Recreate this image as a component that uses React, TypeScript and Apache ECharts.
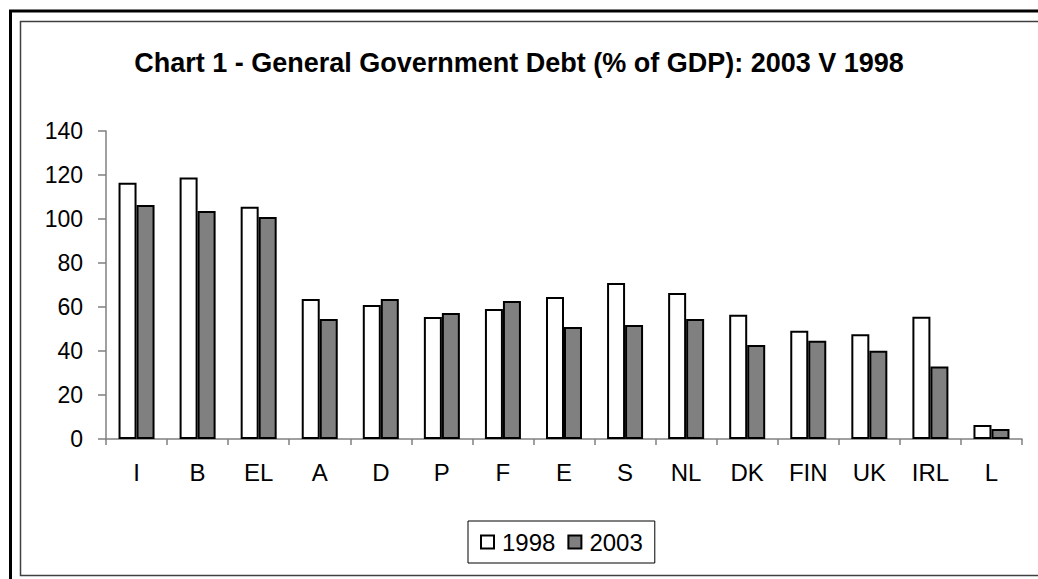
import React, { useEffect, useRef } from "react";
import * as echarts from "echarts";

const categories = ["I", "B", "EL", "A", "D", "P", "F", "E", "S", "NL", "DK", "FIN", "UK", "IRL", "L"];
const debt1998 = [116.5, 118.9, 105.6, 63.6, 60.9, 55.5, 59.1, 64.5, 70.9, 66.4, 56.5, 49.2, 47.6, 55.6, 6.4];
const debt2003 = [106.4, 103.6, 100.9, 54.5, 63.6, 57.3, 62.7, 50.9, 51.8, 54.5, 42.7, 44.7, 40.1, 32.9, 4.5];
const yTicks = { min: 0, max: 140, interval: 20 };
const titleText = "Chart 1 - General Government Debt (% of GDP): 2003 V 1998";

const FONT = "'Liberation Sans', Arial, sans-serif";

export default function App() {
  const ref = useRef<HTMLDivElement>(null);
  useEffect(() => {
    document.body.style.margin = "0";
    const chart = echarts.init(ref.current!, null, { renderer: "svg" });
    chart.setOption({
      animation: false,
      backgroundColor: "#ffffff",
      textStyle: { fontFamily: FONT },
      title: {
        text: titleText,
        left: "center",
        top: 44,
        textStyle: { fontFamily: FONT, fontSize: 27, fontWeight: "bold", color: "#000" },
      },
      graphic: [
        {
          type: "rect",
          shape: { x: 10.5, y: 11, width: 1100, height: 600 },
          style: { fill: "none", stroke: "#000", lineWidth: 3 },
          silent: true,
        },
        {
          type: "rect",
          shape: { x: 20.5, y: 21.5, width: 1100, height: 554 },
          style: { fill: "none", stroke: "#404040", lineWidth: 1.5 },
          silent: true,
        },
      ],
      legend: {
        left: 468,
        top: 521,
        orient: "horizontal",
        borderColor: "#000",
        borderWidth: 1,
        padding: [9, 12, 9, 12],
        itemGap: 12,
        itemWidth: 13,
        itemHeight: 13,
        icon: "rect",
        textStyle: { fontFamily: FONT, fontSize: 24, color: "#000", padding: [0, 0, 0, 3] },
        data: ["1998", "2003"],
      },
      grid: { left: 106, right: 16, top: 131, bottom: 140, containLabel: false },
      xAxis: {
        type: "category",
        data: categories,
        axisLine: { lineStyle: { color: "#808080", width: 1.5 } },
        axisTick: { show: true, alignWithLabel: false, length: 6, lineStyle: { color: "#808080", width: 1.5 } },
        axisLabel: { color: "#000", fontSize: 24, fontFamily: FONT, margin: 21, interval: 0 },
        splitLine: { show: false },
      },
      yAxis: {
        type: "value",
        min: yTicks.min,
        max: yTicks.max,
        interval: yTicks.interval,
        axisLine: { show: true, lineStyle: { color: "#808080", width: 1.5 } },
        axisTick: { show: true, length: 8, lineStyle: { color: "#808080", width: 1.5 } },
        axisLabel: { color: "#000", fontSize: 23, fontFamily: FONT, margin: 23 },
        splitLine: { show: false },
      },
      series: [
        {
          name: "1998",
          type: "bar",
          data: debt1998,
          barWidth: 18,
          barGap: "0%",
          itemStyle: { color: "#ffffff", borderColor: "#000", borderWidth: 2 },
        },
        {
          name: "2003",
          type: "bar",
          data: debt2003,
          barWidth: 18,
          barGap: "0%",
          itemStyle: { color: "#808080", borderColor: "#000", borderWidth: 2 },
        },
      ],
    });
    return () => chart.dispose();
  }, []);
  return <div ref={ref} style={{ width: 1038, height: 579 }} />;
}
